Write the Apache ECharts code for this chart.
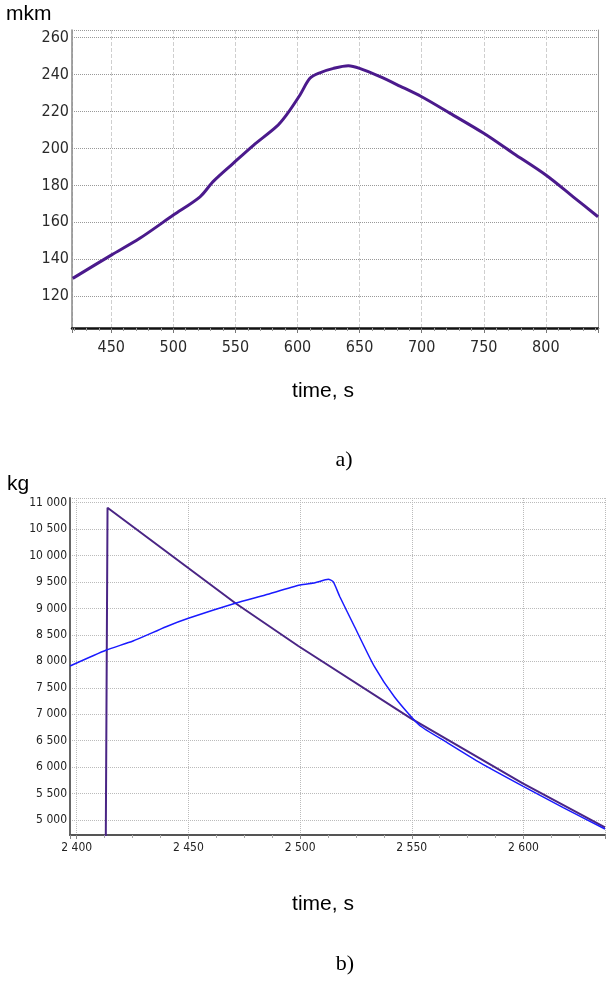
<!DOCTYPE html>
<html>
<head>
<meta charset="utf-8">
<script src="https://cdn.jsdelivr.net/npm/echarts@6/dist/echarts.min.js"></script>
<style>
  html, body { margin: 0; padding: 0; background: #fff; }
  #chart { width: 608px; height: 981px; }
</style>
</head>
<body>
<div id="chart"></div>
<script>
// (a) thickness over time
const thicknessTime = [419, 450, 473, 500, 521.5, 532, 548, 564.5, 583, 591, 602, 610, 618, 629, 641, 650, 666.5, 682.5, 700, 723, 750, 774, 800, 822, 842];
const thicknessMkm  = [129.6, 142.2, 151.3, 163.9, 173.8, 182.0, 191.8, 201.7, 211.8, 218.1, 229, 238, 241, 243.4, 244.8, 243.4, 238.9, 233.8, 228, 219, 208.2, 197.3, 185.6, 173.8, 163];

// (b) mass over time, two traces
const purpleTime = [2413.0, 2413.8, 2471.1, 2499.2, 2549.6, 2599.7, 2636.5];
const purpleKg   = [4500, 10905, 9098, 8290, 6923, 5694, 4860];

const blueTime = [2397, 2413.3, 2425.2, 2440, 2450, 2471, 2484.4, 2500, 2506.7, 2512.6, 2514.8, 2517.8, 2524.4, 2533.3, 2542.2, 2553.3, 2566, 2580.7, 2599.7, 2617.8, 2636.5];
const blueKg   = [7912, 8215, 8385, 8655, 8814, 9098, 9255, 9444, 9487, 9551, 9506, 9222, 8655, 7899, 7331, 6796, 6460, 6080, 5640, 5235, 4830];

// axis labels
const unitTop = 'mkm';
const unitBottom = 'kg';
const timeLabel = 'time, s';
const panelA = 'a)';
const panelB = 'b)';

const zip = (xs, ys) => xs.map((x, i) => [x, ys[i]]);
const narrow = "'Liberation Sans Narrow', 'DejaVu Sans Condensed', 'Liberation Sans', sans-serif";
const spaced = v => String(v).replace(/\B(?=(\d{3})+(?!\d))/g, ' ');
const onStep = step => v => (Math.abs(v / step - Math.round(v / step)) < 1e-6 ? v : '');

const chart = echarts.init(document.getElementById('chart'), null, { renderer: 'canvas' });

chart.setOption({
  animation: false,
  backgroundColor: '#fff',
  grid: [
    { left: 72, top: 30, width: 526, height: 298 },
    { left: 70, top: 498, width: 538, height: 337 }
  ],
  xAxis: [
    {
      type: 'value', gridIndex: 0, min: 418.4, max: 842, splitNumber: 9,
      axisLine: { lineStyle: { color: '#111', width: 2.5 } },
      axisTick: { show: true, length: 5, lineStyle: { color: '#777' } },
      minorTick: { show: true, splitNumber: 5, length: 3, lineStyle: { color: '#999' } },
      axisLabel: { formatter: onStep(50), fontFamily: narrow, fontSize: 16, color: '#2a2a2a', margin: 12 },
      splitLine: { show: true, lineStyle: { type: 'dashed', color: '#cfcfcf' } }
    },
    {
      type: 'value', gridIndex: 1, min: 2397, max: 2636.5, splitNumber: 5,
      axisLine: { lineStyle: { color: '#555', width: 2 } },
      axisTick: { show: true, length: 4, lineStyle: { color: '#888' } },
      minorTick: { show: true, splitNumber: 4, length: 3, lineStyle: { color: '#aaa' } },
      axisLabel: { formatter: v => { const s = onStep(50)(v); return s === '' ? '' : spaced(s); }, fontFamily: narrow, fontSize: 12, color: '#222', margin: 7 },
      splitLine: { show: true, lineStyle: { type: 'dotted', color: '#bbb' } }
    }
  ],
  yAxis: [
    {
      type: 'value', gridIndex: 0, min: 102.7, max: 264.2, splitNumber: 8,
      axisLine: { show: true, lineStyle: { color: '#888', width: 1.5 } },
      axisTick: { show: false },
      axisLabel: { formatter: onStep(20), fontFamily: narrow, fontSize: 16, color: '#2a2a2a', margin: 3 },
      splitLine: { show: true, lineStyle: { type: 'dotted', color: '#999' } }
    },
    {
      type: 'value', gridIndex: 0, position: 'right', min: 102.7, max: 264.2,
      axisLine: { show: true, lineStyle: { color: '#999', width: 1 } },
      axisTick: { show: false }, axisLabel: { show: false }, splitLine: { show: false }
    },
    {
      type: 'value', gridIndex: 1, min: 4716, max: 11089, splitNumber: 13,
      axisLine: { show: true, lineStyle: { color: '#666', width: 2 } },
      axisTick: { show: false },
      axisLabel: { formatter: v => { const s = onStep(500)(v); return s === '' ? '' : spaced(s); }, fontFamily: narrow, fontSize: 12, color: '#222', margin: 3 },
      splitLine: { show: true, lineStyle: { type: 'dotted', color: '#bbb' } }
    }
  ],
  series: [
    {
      type: 'line', xAxisIndex: 0, yAxisIndex: 0, data: zip(thicknessTime, thicknessMkm),
      showSymbol: false, smooth: 0.3, lineStyle: { color: '#4b1a8c', width: 3 }
    },
    {
      type: 'line', xAxisIndex: 1, yAxisIndex: 2, data: zip(purpleTime, purpleKg),
      showSymbol: false, lineStyle: { color: '#4a2585', width: 2 }
    },
    {
      type: 'line', xAxisIndex: 1, yAxisIndex: 2, data: zip(blueTime, blueKg),
      showSymbol: false, smooth: 0.2, lineStyle: { color: '#1a1aff', width: 1.5 }
    }
  ],
  graphic: [
    { type: 'text', left: 6, top: 4, style: { text: unitTop, font: "21px 'Liberation Sans', Arial, sans-serif", fill: '#000' } },
    { type: 'text', left: 7, top: 474, style: { text: unitBottom, font: "21px 'Liberation Sans', Arial, sans-serif", fill: '#000' } },
    { type: 'text', x: 323, y: 391, style: { text: timeLabel, font: "21px 'Liberation Sans', Arial, sans-serif", fill: '#000', align: 'center', verticalAlign: 'middle' } },
    { type: 'text', x: 323, y: 904, style: { text: timeLabel, font: "21px 'Liberation Sans', Arial, sans-serif", fill: '#000', align: 'center', verticalAlign: 'middle' } },
    { type: 'text', x: 344, y: 460, style: { text: panelA, font: "22px 'Liberation Serif', 'Times New Roman', serif", fill: '#000', align: 'center', verticalAlign: 'middle' } },
    { type: 'text', x: 345, y: 964, style: { text: panelB, font: "22px 'Liberation Serif', 'Times New Roman', serif", fill: '#000', align: 'center', verticalAlign: 'middle' } }
  ]
});
</script>
</body>
</html>
